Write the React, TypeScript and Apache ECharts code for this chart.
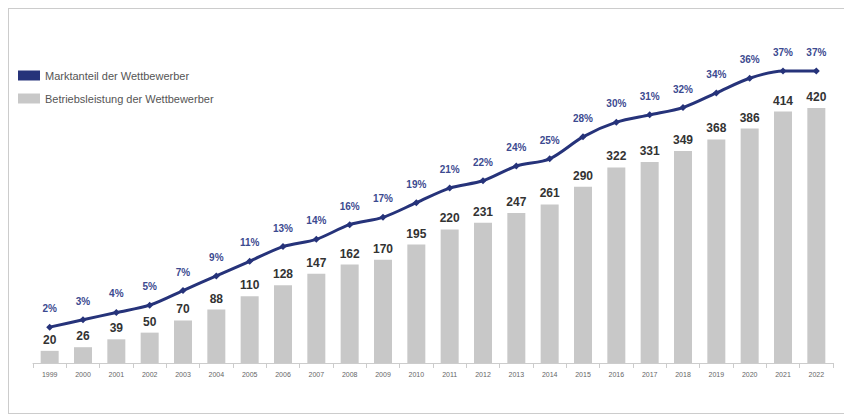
import { useEffect, useRef } from 'react';
import * as echarts from 'echarts';

const years = ['1999','2000','2001','2002','2003','2004','2005','2006','2007','2008','2009','2010','2011','2012','2013','2014','2015','2016','2017','2018','2019','2020','2021','2022'];
const leistung = [20,26,39,50,70,88,110,128,147,162,170,195,220,231,247,261,290,322,331,349,368,386,414,420];
const anteil = [2,3,4,5,7,9,11,13,14,16,17,19,21,22,24,25,28,30,31,32,34,36,37,37];

const App = () => {
  const ref = useRef<HTMLDivElement>(null);

  useEffect(() => {
    if (!ref.current) return;
    const chart = echarts.init(ref.current, undefined, { renderer: 'svg' });
    chart.setOption({
      animation: false,
      textStyle: { fontFamily: 'Arial, Liberation Sans, sans-serif' },
      legend: {
        orient: 'vertical',
        left: 4,
        top: 56,
        itemGap: 12,
        textStyle: { color: '#555', fontSize: 11 },
        data: [
          { name: 'Marktanteil der Wettbewerber', icon: 'rect', itemHeight: 4, itemStyle: { color: '#26337a' } },
          { name: 'Betriebsleistung der Wettbewerber', icon: 'rect' },
        ],
        itemWidth: 22,
        itemHeight: 10,
      },
      grid: { left: 24, right: 12, top: 40, bottom: 50 },
      xAxis: {
        type: 'category',
        data: years,
        axisLine: { lineStyle: { color: '#ccc' } },
        axisTick: { show: true, lineStyle: { color: '#ccc' } },
        axisLabel: { color: '#666', fontSize: 7, margin: 8 },
      },
      yAxis: [
        { type: 'value', min: 0, max: 517, show: false, splitLine: { show: false } },
        { type: 'value', min: -2.9, max: 40, show: false, splitLine: { show: false } },
      ],
      series: [
        {
          name: 'Betriebsleistung der Wettbewerber',
          type: 'bar',
          data: leistung,
          barWidth: '54%',
          itemStyle: { color: '#c8c8c8' },
          label: { show: true, position: 'top', color: '#333', fontWeight: 'bold', fontSize: 12 },
        },
        {
          name: 'Marktanteil der Wettbewerber',
          type: 'line',
          yAxisIndex: 1,
          data: anteil,
          smooth: 0.3,
          symbol: 'diamond',
          symbolSize: 7,
          lineStyle: { color: '#26337a', width: 3 },
          itemStyle: { color: '#26337a' },
          label: {
            show: true,
            position: 'top',
            distance: 10,
            color: '#3c4a90',
            fontWeight: 'bold',
            fontSize: 10,
            formatter: (p: any) => `${p.value}%`,
          },
        },
      ],
    });
    return () => chart.dispose();
  }, []);

  return (
    <div style={{ width: 836, height: 404, border: '1px solid #ccc', background: '#fff' }}>
      <div ref={ref} style={{ width: 836, height: 404 }} />
    </div>
  );
};

export default App;
